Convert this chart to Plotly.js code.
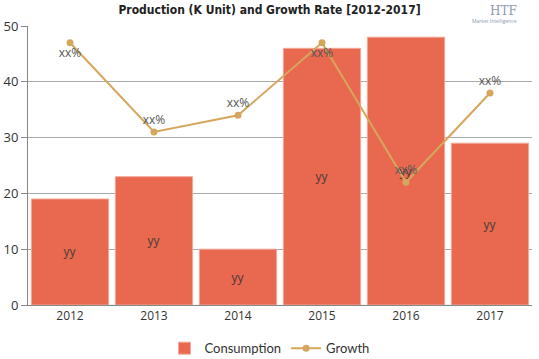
<!DOCTYPE html>
<html><head><meta charset="utf-8">
<script src="https://cdn.plot.ly/plotly-3.0.1.min.js"></script>
<style>html,body{margin:0;padding:0;background:#fff}#c{width:539px;height:359px}</style>
</head><body><div id="c"></div>
<script>
const years = ['2012','2013','2014','2015','2016','2017'];
const consumption = [19, 23, 10, 46, 48, 29];
const growth = [47, 31, 34, 47, 22, 38];
const barLabels = ['yy','yy','yy','yy','yy','yy'];
const lineLabels = ['xx%','xx%','xx%','xx%','xx%','xx%'];
const lineLabelPos = ['bottom center','top center','top center','bottom center','top center','top center'];

const bar = {
  type:'bar', x: years, y: consumption, name:'Consumption',
  marker:{color:'#E8694F', line:{color:'#F3A998', width:1}},
  text: barLabels, textposition:'inside', insidetextanchor:'middle',
  textfont:{color:'#4a3a35', size:12, family:'Open Sans'},
  hoverinfo:'none'
};
const line = {
  type:'scatter', mode:'lines+markers+text', x: years, y: growth, name:'Growth',
  line:{color:'#D6A65C', width:2}, marker:{color:'#D6A65C', size:7},
  text: lineLabels, textposition: lineLabelPos,
  textfont:{color:'#555', size:12, family:'Open Sans'}, cliponaxis:false,
  hoverinfo:'none'
};
const layout = {
  width:539, height:359,
  margin:{l:28, r:7, t:26, b:54},
  paper_bgcolor:'#fff', plot_bgcolor:'#fff',
  title:{text:'<b>Production (K Unit) and Growth Rate [2012-2017]</b>', x:0.5, xanchor:'center', y:0.985, yanchor:'top',
    font:{family:'DejaVu Sans Condensed', size:12, color:'#222'}},
  bargap:0.08,
  showlegend:true,
  legend:{orientation:'h', x:0.5, xanchor:'center', xref:'container', y:0.03, yanchor:'middle', yref:'container',
    font:{family:'Lato', size:13, color:'#333'}, itemwidth:30},
  xaxis:{type:'category', showline:true, linecolor:'#888', ticks:'', tickfont:{family:'Open Sans', size:12, color:'#333'}, fixedrange:true},
  yaxis:{range:[0,50], dtick:10, showgrid:true, gridcolor:'#aaa', gridwidth:1, showline:true, linecolor:'#888',
    ticks:'outside', ticklen:6, tickcolor:'#888', zeroline:false,
    tickfont:{family:'Open Sans', size:13, color:'#333'}},
  annotations:[
    {text:'HTF', xref:'paper', yref:'paper', x:0.975, y:1.085, showarrow:false, font:{family:'DejaVu Serif', size:12, color:'#8a9bb0'}},
    {text:'Market Intelligence', xref:'paper', yref:'paper', x:0.975, y:1.035, showarrow:false, font:{family:'Open Sans', size:5, color:'#8a9bb0'}}
  ]
};
Plotly.newPlot('c', [bar, line], layout, {displayModeBar:false, staticPlot:true});
</script></body></html>
